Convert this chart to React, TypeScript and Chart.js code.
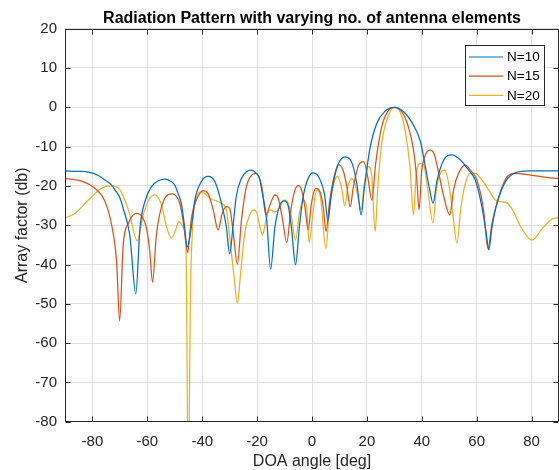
import React, { useEffect, useRef } from "react";
import { Chart, registerables } from "chart.js";

Chart.register(...registerables);

const FONT = '"Liberation Sans", Arial, Helvetica, sans-serif';

// ---- data ----
const seriesLabels = ["N=10", "N=15", "N=20"];
const seriesColors = ["#0072BD", "#D95319", "#EDB120"];

const n10X = [-90,-85,-81.5,-78,-75.4,-73,-71.8,-70,-68.8,-66.4,-64.2,-62.7,-60.9,-58.5,-56,-53.6,-51.5,-50,-48.8,-47.6,-46.5,-45.5,-44.5,-43.3,-42.7,-40.3,-37.9,-35.4,-33,-31.2,-30,-28.8,-27.6,-25.7,-23.9,-22.1,-20.3,-19.1,-18.3,-16.5,-15.1,-13.5,-11.7,-10.2,-8.6,-7.4,-6,-4.6,-3.2,-1.4,0.4,2.5,4.6,5.8,7,9.4,12.2,14.7,16.5,17.9,19.1,21.1,23.6,26.6,30,33.5,37,39.5,41.3,42.9,44.1,45.6,48,51,54.1,57.1,59.5,61.9,63.5,64.4,65.6,67.4,70.5,74.3,79.2,85,90];
const n10Y = [-16.2,-16.3,-16.5,-17.3,-18.5,-19.8,-21,-23,-25.7,-32.5,-47.5,-30.8,-24,-20.2,-18.7,-18.3,-18.8,-19.8,-21.9,-24.5,-30,-35.5,-32.9,-27,-23.6,-18.9,-17.6,-18.9,-24.4,-30.4,-37.3,-30.4,-22.7,-18.1,-16.4,-16,-16.8,-18.1,-21,-28.7,-41.2,-30.4,-24.9,-23.8,-25.3,-31.2,-40.1,-30.4,-22.7,-18.1,-16.7,-17.8,-22.3,-28.9,-22.3,-14.7,-12.6,-14.4,-20.2,-27.4,-20.4,-10.5,-4.1,-1,0,-1.2,-4.6,-8.7,-15.1,-21,-24.4,-18.5,-13.4,-12.1,-13.4,-16,-18.5,-25.3,-32.1,-36.3,-30.4,-24.4,-18.9,-16.6,-16.2,-16.2,-16.2];

const n15X = [-90,-86,-83.9,-79.1,-75.4,-73,-71.2,-70.1,-68.8,-66.9,-63.9,-62.1,-60.3,-59.1,-58.1,-56.7,-54.2,-50.9,-48.2,-47,-46,-45.3,-44.5,-43.9,-42.1,-39.7,-37.9,-36,-34.2,-32.7,-31.2,-30,-28.8,-27.2,-25.7,-23.9,-21.9,-20.4,-18.3,-16.8,-15.1,-13.5,-12.3,-10.7,-9.2,-7.7,-6.2,-5,-3.8,-2.6,-1.4,-0.2,1.4,2.9,4.1,5.1,6.4,8.2,9.8,11.5,12.7,13.9,15.1,17,18.8,20.3,21.8,23.2,25.4,27.9,30,32.7,35.1,37,38.2,39,40,40.8,41.9,43.1,44.4,46.2,48,50.2,51.6,53.4,55.9,57.7,60.1,62.5,64.1,65.6,67.4,70.5,74.3,79.2,84,90];
const n15Y = [-18.1,-18.5,-18.8,-20.6,-24,-30,-39.3,-54.4,-35,-29.5,-27,-27.6,-30.8,-36.7,-44.5,-32.5,-24,-22,-24.4,-28.7,-34,-37,-32,-28,-23.6,-21.2,-21.9,-26.1,-31.2,-27,-25.3,-25.7,-31.2,-39.9,-28.7,-20.2,-17.2,-16.8,-20.2,-27.4,-24.4,-22.3,-23.2,-28.7,-34.4,-26.1,-21,-19.9,-21,-25.3,-31.2,-24.4,-20.6,-21.5,-25.3,-31.6,-24,-17.2,-14.6,-16.4,-20.2,-25.3,-20.2,-14.7,-13.8,-17.7,-23.6,-14.3,-4.9,-0.7,0,-1.1,-4.9,-10.9,-18.5,-26.1,-16,-13.2,-11.3,-10.9,-11.7,-16.8,-22.7,-27.4,-21,-16.8,-14.7,-16,-18.5,-26.1,-35.9,-29.5,-24.4,-18.3,-16.8,-17.2,-17.7,-18.2];

const n20X = [-90,-86.4,-81.5,-76.7,-73,-70,-66.9,-63.6,-61.5,-59.1,-57.3,-54.8,-53,-51.2,-49.7,-48.5,-47,-45.9,-45.1,-44.2,-43.6,-43.3,-42.1,-40.3,-38.5,-36.6,-34.8,-33,-31.2,-30,-28.4,-27.2,-26,-24.5,-22.7,-21.3,-20,-19,-18,-16.8,-15.3,-13.5,-11.9,-10.2,-8.6,-7.4,-6,-4.6,-3.2,-2,-1,0.2,1.7,3.1,5.1,6.3,8,9.3,10.9,11.9,13.1,14.5,15.9,17,17.9,19.1,20.6,21.8,23,24,25.4,27.9,30,32.1,33.9,35.7,37,37.9,39.4,40.7,42.2,44.1,45.3,46.8,48.2,49.8,51.3,52.8,54.3,55.9,57.7,59.5,61.9,64.4,66.8,68.6,70.7,73.1,76.1,80.1,84,87.6,90];
const n20Y = [-28.1,-27,-23.6,-20.6,-20,-21,-26.1,-34,-27.4,-23.2,-22.3,-24.9,-30.4,-33.3,-31.2,-29.1,-30.4,-36,-95,-44,-32,-27.8,-22.7,-21.5,-22.3,-23.4,-23.8,-24.4,-26.1,-32.9,-43.1,-49.9,-42.2,-32.1,-27.4,-26.1,-27,-30.4,-32.5,-28.7,-26.1,-26.6,-25.7,-23.6,-24.4,-28.2,-33.8,-27,-23.6,-25.3,-34.4,-27.8,-21,-23,-35.9,-26.1,-19.3,-17.5,-21,-25.1,-20.2,-18.1,-20.2,-23.6,-26.1,-19.3,-15.1,-17.7,-31.6,-20.2,-9.2,-2,0,-1.1,-5.8,-15.1,-27.4,-17.7,-14.3,-14.7,-21,-29.5,-21,-16.8,-16,-19.3,-27,-34.6,-25.3,-19.3,-16.8,-16.8,-18.5,-21,-23.6,-24,-24.2,-26.1,-30.4,-33.8,-30.8,-28.4,-28.1];

const xTicks = [-80, -60, -40, -20, 0, 20, 40, 60, 80];
const yTicks = [20, 10, 0, -10, -20, -30, -40, -50, -60, -70, -80];

const toPoints = (xs: number[], ys: number[]) => xs.map((x, i) => ({ x, y: ys[i] }));

const axesBoxPlugin = {
  id: "axesBox",
  afterDatasetsDraw(chart: any) {
    const { ctx, chartArea, scales } = chart;
    const l = Math.round(chartArea.left) + 0.5;
    const r = Math.round(chartArea.right) - 0.5;
    const t = Math.round(chartArea.top) + 0.5;
    const b = Math.round(chartArea.bottom) - 0.5;
    ctx.save();
    ctx.strokeStyle = "#262626";
    ctx.lineWidth = 1;
    ctx.beginPath();
    ctx.rect(l, t, r - l, b - t);
    const tl = 5;
    xTicks.forEach((v) => {
      const px = Math.round(scales.x.getPixelForValue(v)) + 0.5;
      ctx.moveTo(px, b); ctx.lineTo(px, b - tl);
      ctx.moveTo(px, t); ctx.lineTo(px, t + tl);
    });
    yTicks.forEach((v) => {
      const py = Math.round(scales.y.getPixelForValue(v)) + 0.5;
      ctx.moveTo(l, py); ctx.lineTo(l + tl, py);
      ctx.moveTo(r, py); ctx.lineTo(r - tl, py);
    });
    ctx.stroke();
    ctx.restore();
  },
};

const boxLegendPlugin = {
  id: "boxLegend",
  afterDraw(chart: any) {
    const { ctx } = chart;
    const bx = 465.5, by = 45.5, bw = 79, bh = 60;
    ctx.save();
    ctx.fillStyle = "#ffffff";
    ctx.fillRect(bx, by, bw, bh);
    ctx.strokeStyle = "#262626";
    ctx.lineWidth = 1;
    ctx.strokeRect(bx, by, bw, bh);
    ctx.font = `13.5px ${FONT}`;
    ctx.textBaseline = "middle";
    ctx.textAlign = "left";
    chart.data.datasets.forEach((ds: any, i: number) => {
      const yy = 57 + i * 19.2;
      ctx.strokeStyle = ds.borderColor;
      ctx.lineWidth = 1.2;
      ctx.beginPath();
      ctx.moveTo(469, yy);
      ctx.lineTo(503, yy);
      ctx.stroke();
      ctx.fillStyle = "#000000";
      ctx.fillText(ds.label, 507, yy + 0.5);
    });
    ctx.restore();
  },
};

export default function App() {
  const canvasRef = useRef<HTMLCanvasElement | null>(null);

  useEffect(() => {
    const canvas = canvasRef.current;
    if (!canvas) return;
    const seriesX = [n10X, n15X, n20X];
    const seriesY = [n10Y, n15Y, n20Y];
    const chart = new Chart(canvas, {
      type: "scatter",
      data: {
        datasets: seriesLabels.map((label, i) => ({
          label,
          data: toPoints(seriesX[i], seriesY[i]),
          showLine: true,
          borderColor: seriesColors[i],
          backgroundColor: seriesColors[i],
          borderWidth: 1.25,
          pointRadius: 0,
          cubicInterpolationMode: "monotone",
        })),
      },
      options: {
        animation: false,
        responsive: false,
        devicePixelRatio: 1,
        layout: { padding: { left: 0, right: -1, top: 0, bottom: 0 } },
        plugins: {
          legend: { display: false },
          tooltip: { enabled: false },
          title: {
            display: true,
            fullSize: false,
            text: "Radiation Pattern with varying no. of antenna elements",
            color: "#000000",
            font: { family: FONT, size: 16, weight: "bold", lineHeight: 1 },
            padding: { top: 11, bottom: 1.7 },
          },
        },
        scales: {
          x: {
            type: "linear",
            min: -90,
            max: 90,
            afterBuildTicks: (s: any) => {
              s.ticks = xTicks.map((v) => ({ value: v }));
            },
            afterFit: (s: any) => {
              s.height = 48.3;
            },
            grid: { color: "#dfdfdf", drawTicks: false },
            border: { display: false },
            ticks: {
              color: "#262626",
              font: { family: FONT, size: 15 },
              padding: 11,
              maxRotation: 0,
            },
            title: {
              display: true,
              text: "DOA angle [deg]",
              color: "#262626",
              font: { family: FONT, size: 16, lineHeight: 1 },
              padding: { top: 0, bottom: 0 },
            },
          },
          y: {
            type: "linear",
            min: -80,
            max: 20,
            afterBuildTicks: (s: any) => {
              s.ticks = yTicks.map((v) => ({ value: v }));
            },
            afterFit: (s: any) => {
              s.width = 65;
            },
            grid: { color: "#dfdfdf", drawTicks: false },
            border: { display: false },
            ticks: {
              color: "#262626",
              font: { family: FONT, size: 15 },
              padding: 8,
            },
            title: {
              display: true,
              text: "Array factor (db)",
              color: "#262626",
              font: { family: FONT, size: 16, lineHeight: 1 },
              padding: { top: 15, bottom: 0 },
            },
          },
        },
      },
      plugins: [axesBoxPlugin, boxLegendPlugin],
    } as any);
    return () => chart.destroy();
  }, []);

  return (
    <div style={{ position: "absolute", left: 0, top: 0, width: 559, height: 470, background: "#ffffff" }}>
      <canvas ref={canvasRef} width={559} height={470} style={{ width: 559, height: 470, display: "block" }} />
    </div>
  );
}
